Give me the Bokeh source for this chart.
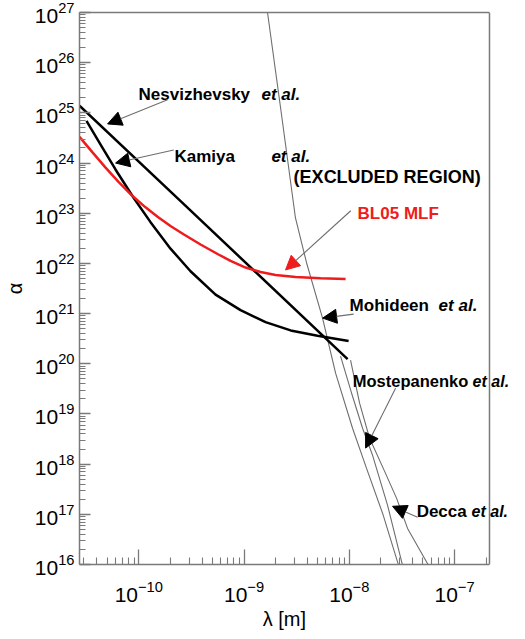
from bokeh.plotting import figure
from bokeh.models import (Range1d, FixedTicker, LogTickFormatter, Label, Arrow,
                          NormalHead, LogAxis, Span)
from bokeh.embed import file_html
from bokeh.resources import INLINE

# ---------------- data ----------------
nesv_lam = [2.73e-11, 2.66e-10, 9.64e-9]
nesv_alpha = [1.39e25, 1.53e23, 1.24e20]

kamiya_lam = [3.18e-11, 4.33e-11, 6.00e-11, 8.91e-11, 1.292e-10, 2.00e-10,
              3.10e-10, 5.36e-10, 9.26e-10, 1.601e-9, 2.77e-9, 4.99e-9, 9.85e-9]
kamiya_alpha = [6.95e24, 2.34e24, 7.45e23, 2.03e23, 6.64e22, 1.97e22,
                6.98e21, 2.39e21, 1.17e21, 6.76e20, 4.62e20, 3.61e20, 2.83e20]

bl05_lam = [2.73e-11, 3.63e-11, 4.83e-11, 6.41e-11, 8.71e-11, 1.158e-10,
            1.506e-10, 2.00e-10, 2.66e-10, 3.86e-10, 5.60e-10, 7.44e-10,
            1.033e-9, 1.435e-9, 1.992e-9, 3.09e-9, 5.34e-9, 9.22e-9]
bl05_alpha = [3.33e24, 1.63e24, 8.09e23, 4.20e23, 2.20e23, 1.31e23,
              8.48e22, 5.58e22, 3.81e22, 2.38e22, 1.54e22, 1.12e22,
              8.28e21, 6.73e21, 5.86e21, 5.35e21, 5.04e21, 4.89e21]

mohideen_lam = [1.671e-9, 2.27e-9, 3.08e-9, 3.93e-9, 5.57e-9, 7.41e-9,
                1.074e-8, 1.459e-8, 2.075e-8, 2.944e-8]
mohideen_alpha = [1.0e27, 9.16e24, 8.05e22, 1.02e22, 8.13e20, 6.49e19,
                  5.19e18, 8.24e17, 1.04e17, 9.55e15]

mostep_lam = [8.26e-9, 1.052e-8, 1.337e-8, 1.665e-8, 2.312e-8, 3.21e-8]
mostep_alpha = [1.42e20, 2.59e19, 5.19e18, 1.50e18, 1.51e17, 9.55e15]

decca_lam = [1.028e-8, 1.253e-8, 1.56e-8, 2.167e-8, 2.818e-8, 3.58e-8, 5.67e-8]
decca_alpha = [1.18e20, 1.64e19, 3.27e18, 7.18e17, 2.08e17, 5.24e16, 9.55e15]

x_major_exp = [-10, -9, -8, -7]
y_major_exp = list(range(16, 28))
mantissas = [2, 3, 4, 5, 6, 7, 8, 9]

# ---------------- figure ----------------
XMIN, XEDGE = 2.73e-11, 2.15e-7      # visible box of the chart
XCANVAS = 3.48e-7                     # room on the right for the labels
YMIN, YMAX = 1e16, 1e27
AX = "#7a7a7a"

p = figure(x_axis_type="log", y_axis_type="log",
           x_range=Range1d(XMIN, XCANVAS), y_range=Range1d(YMIN, YMAX),
           frame_width=432, frame_height=552,
           min_border_left=77, min_border_top=12, min_border_right=0,
           min_border_bottom=58,
           output_backend="svg", toolbar_location=None)
p.background_fill_color = "white"
p.border_fill_color = "white"
p.grid.visible = False
p.outline_line_color = None

xt_major = [10.0 ** e for e in x_major_exp]
xt_minor = [m * 10.0 ** e for e in range(-11, -6) for m in mantissas]
xt_minor = [v for v in xt_minor if XMIN <= v <= XEDGE]
yt_major = [10.0 ** e for e in y_major_exp]
yt_minor = [m * 10.0 ** e for e in range(16, 27) for m in mantissas]

p.xaxis.ticker = FixedTicker(ticks=xt_major, minor_ticks=xt_minor)
p.yaxis.ticker = FixedTicker(ticks=yt_major, minor_ticks=yt_minor)
p.xaxis.formatter = LogTickFormatter()
p.yaxis.formatter = LogTickFormatter()
p.xaxis.bounds = (XMIN, XEDGE)

for ax in (p.xaxis, p.yaxis):
    ax.axis_line_color = AX
    ax.axis_line_width = 1.5
    ax.major_tick_line_color = AX
    ax.minor_tick_line_color = AX
    ax.major_tick_line_width = 1.3
    ax.minor_tick_line_width = 1.1
    ax.major_tick_out = 0
    ax.minor_tick_out = 0
    ax.major_label_text_font = "Liberation Sans"
    ax.major_label_text_font_size = "21px"
    ax.major_label_text_color = "black"
    ax.axis_label_text_font = "Liberation Sans"
    ax.axis_label_text_font_style = "normal"
    ax.axis_label_text_color = "black"
    ax.axis_label_text_font_size = "20px"

p.xaxis.major_tick_in = 15
p.xaxis.minor_tick_in = 7
p.yaxis.major_tick_in = 11
p.yaxis.minor_tick_in = 6
p.xaxis.major_label_standoff = 16
p.yaxis.major_label_standoff = 5
# trailing no-break spaces keep the title centred under the visible box
p.xaxis.axis_label = "λ [m]" + "\u00a0" * 4
p.yaxis.axis_label = "α"
p.xaxis.axis_label_standoff = 3
p.yaxis.axis_label_standoff = 6

# box edges (top and right)
top = LogAxis(ticker=FixedTicker(ticks=[]), bounds=(XMIN, XEDGE),
              axis_line_color=AX, axis_line_width=1.5,
              major_tick_in=0, major_tick_out=0, minor_tick_in=0,
              minor_tick_out=0, major_label_text_font_size="0px",
              major_label_standoff=0)
p.add_layout(top, "above")
p.add_layout(Span(location=XEDGE, dimension="height", line_color=AX,
                  line_width=1.5))

# ---------------- curves ----------------
gray = "#6e6e6e"
p.line(mohideen_lam, mohideen_alpha, line_color=gray, line_width=1.1)
p.line(mostep_lam, mostep_alpha, line_color=gray, line_width=1.1)
p.line(decca_lam, decca_alpha, line_color=gray, line_width=1.1)
p.line(nesv_lam, nesv_alpha, line_color="black", line_width=2.5)
p.line(kamiya_lam, kamiya_alpha, line_color="black", line_width=2.5)
p.line(bl05_lam, bl05_alpha, line_color="#ee1c1c", line_width=2.5)

# ---------------- annotations ----------------
def L(v):
    return 10.0 ** v

font = "Liberation Sans"
labels = [
    ("Nesvizhevsky", -10.003, 25.36, "bold", "black", "17px"),
    ("et al.", -8.834, 25.36, "bold italic", "black", "17px"),
    ("Kamiya", -9.661, 24.124, "bold", "black", "17px"),
    ("et al.", -8.740, 24.124, "bold italic", "black", "17px"),
    ("(EXCLUDED REGION)", -8.529, 23.72, "bold", "black", "18px"),
    ("BL05 MLF", -7.921, 22.998, "bold", "#ee1c1c", "17px"),
    ("Mohideen", -7.997, 21.17, "bold", "black", "17px"),
    ("et al.", -7.151, 21.17, "bold italic", "black", "17px"),
    ("Mostepanenko", -7.967, 19.653, "bold", "black", "16.5px"),
    ("et al.", -6.828, 19.653, "bold italic", "black", "16px"),
    ("Decca", -7.360, 17.06, "bold", "black", "17px"),
    ("et al.", -6.838, 17.06, "bold italic", "black", "16px"),
]
for t, lx, ly, st, col, sz in labels:
    p.add_layout(Label(x=L(lx), y=L(ly), text=t, text_font=font,
                       text_font_style=st, text_color=col, text_font_size=sz,
                       text_baseline="alphabetic", text_align="left"))

arrows = [
    (-9.727, 25.26, -10.297, 24.78, "black"),
    (-9.669, 24.26, -10.221, 24.00, "black"),
    (-7.986, 23.05, -8.606, 21.87, "#ee1c1c"),
    (-7.958, 20.99, -8.253, 20.91, "black"),
    (-7.560, 19.51, -7.845, 18.32, "black"),
    (-7.351, 16.94, -7.589, 17.16, "black"),
]
for x0, y0, x1, y1, hc in arrows:
    p.add_layout(Arrow(x_start=L(x0), y_start=L(y0), x_end=L(x1), y_end=L(y1),
                       line_color=gray, line_width=1.1,
                       end=NormalHead(size=14, fill_color=hc, line_color=hc)))

open("out.html", "w").write(file_html(p, INLINE))
